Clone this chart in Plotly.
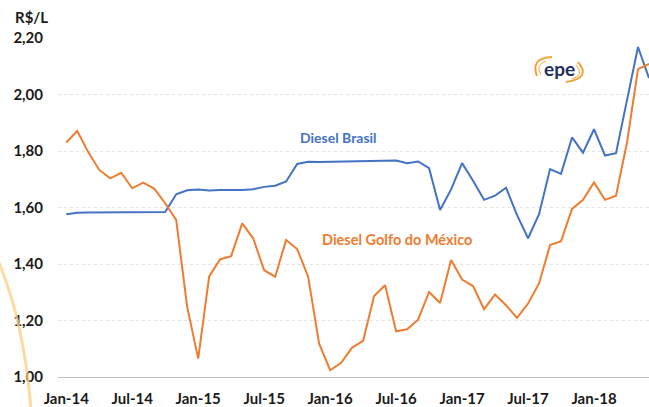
import plotly.graph_objects as go

months = ["Jan", "Feb", "Mar", "Apr", "May", "Jun", "Jul", "Aug", "Sep", "Oct", "Nov", "Dec"]
categories = [f"{m}-{y}" for y in ["14", "15", "16", "17", "18"] for m in months][:54]

diesel_brasil = [
    1.576, 1.581, 1.582, 1.582, 1.583, 1.583, 1.583, 1.582, 1.583, 1.584,
    1.647, 1.661, 1.664, 1.660, 1.662, 1.662, 1.662, 1.665, 1.673, 1.677,
    1.692, 1.754, 1.762, 1.761, 1.762, 1.762, 1.762, 1.763, 1.765, 1.766,
    1.766, 1.757, 1.763, 1.739, 1.591, 1.664, 1.757, 1.695, 1.627, 1.642,
    1.670, 1.573, 1.491, 1.576, 1.736, 1.719, 1.848, 1.794, 1.877, 1.784,
    1.792, 1.980, 2.168, 2.058,
]
diesel_golfo = [
    1.830, 1.871, 1.796, 1.733, 1.703, 1.723, 1.668, 1.688, 1.667, 1.615,
    1.556, 1.248, 1.065, 1.356, 1.417, 1.428, 1.544, 1.491, 1.378, 1.355,
    1.485, 1.453, 1.355, 1.118, 1.024, 1.050, 1.104, 1.128, 1.287, 1.325,
    1.162, 1.169, 1.203, 1.301, 1.262, 1.414, 1.345, 1.322, 1.240, 1.292,
    1.254, 1.209, 1.260, 1.331, 1.467, 1.481, 1.595, 1.627, 1.689, 1.627,
    1.642, 1.830, 2.090, 2.108,
]
tick_labels = ["Jan-14", "Jul-14", "Jan-15", "Jul-15", "Jan-16", "Jul-16", "Jan-17", "Jul-17", "Jan-18"]
y_ticks = [1.0, 1.2, 1.4, 1.6, 1.8, 2.0, 2.2]

BLUE = "#4472C4"
ORANGE = "#ED7D31"
W, H = 649, 407
ML, MR, MT, MB = 58, 0, 38, 30
PW, PH = W - ML - MR, H - MT - MB


def px(x, y):
    return (x - ML) / PW, (H - MB - y) / PH


def path(points_cmds):
    out = []
    for cmd, pts in points_cmds:
        s = cmd + " " + " ".join("%.5f,%.5f" % px(*p) for p in pts)
        out.append(s)
    return " ".join(out)


fig = go.Figure()
fig.add_trace(go.Scatter(x=categories, y=diesel_brasil, mode="lines",
                         line=dict(color=BLUE, width=2), name="Diesel Brasil"))
fig.add_trace(go.Scatter(x=categories, y=diesel_golfo, mode="lines",
                         line=dict(color=ORANGE, width=2), name="Diesel Golfo do México"))

LOGO = "#F2A43A"
shapes = [
    # decorative arc bottom-left
    dict(type="path", xref="paper", yref="paper", layer="above",
         path=path([("M", [(-3, 258)]), ("Q", [(24, 320), (31, 410)])]),
         line=dict(color="rgba(253,205,130,0.75)", width=3)),
    # logo swooshes
    dict(type="path", xref="paper", yref="paper",
         path=path([("M", [(552, 57)]), ("Q", [(530, 58), (537, 76)])]),
         line=dict(color=LOGO, width=2)),
    dict(type="path", xref="paper", yref="paper",
         path=path([("M", [(546, 61)]), ("Q", [(535, 65), (541, 75)])]),
         line=dict(color=LOGO, width=1)),
    dict(type="path", xref="paper", yref="paper",
         path=path([("M", [(578, 62)]), ("Q", [(592, 78), (566, 82)])]),
         line=dict(color=LOGO, width=2)),
    dict(type="path", xref="paper", yref="paper",
         path=path([("M", [(576, 65)]), ("Q", [(585, 75), (572, 79)])]),
         line=dict(color=LOGO, width=1)),
]

annotations = [
    dict(text="<b>R$/L</b>", xref="paper", yref="paper", x=px(31, 17)[0], y=px(31, 17)[1],
         showarrow=False, font=dict(family="Lato", size=15, color="#1a1a1a"),
         xanchor="center", yanchor="middle"),
    dict(text="<b>Diesel Brasil</b>", xref="paper", yref="paper", x=px(338, 137)[0], y=px(338, 137)[1],
         showarrow=False, font=dict(family="Lato", size=14, color=BLUE),
         xanchor="center", yanchor="middle"),
    dict(text="<b>Diesel Golfo do México</b>", xref="paper", yref="paper", x=px(397, 239)[0], y=px(397, 239)[1],
         showarrow=False, font=dict(family="Lato", size=14.5, color=ORANGE),
         xanchor="center", yanchor="middle"),
    dict(text="<b>epe</b>", xref="paper", yref="paper", x=px(559, 69)[0], y=px(559, 69)[1],
         showarrow=False, font=dict(family="Lato", size=19, color="#1F2F5C"),
         xanchor="center", yanchor="middle"),
]

fig.update_layout(
    width=W, height=H,
    margin=dict(l=ML, r=MR, t=MT, b=MB, pad=0),
    paper_bgcolor="white", plot_bgcolor="white",
    showlegend=False,
    separators=",.",
    shapes=shapes,
    annotations=annotations,
    xaxis=dict(
        type="category",
        range=[-0.75, 53.0],
        tickmode="array", tickvals=tick_labels, ticktext=["<b>%s</b>" % t for t in tick_labels],
        showgrid=False, ticks="", zeroline=False,
        showline=True, linecolor="#BFBFBF", linewidth=1,
        tickfont=dict(family="Lato", size=15, color="#1a1a1a"),
        ticklabelstandoff=8,
    ),
    yaxis=dict(
        range=[1.0, 2.2],
        tickmode="array", tickvals=y_ticks,
        ticktext=["<b>%s</b>" % ("%.2f" % v).replace(".", ",") for v in y_ticks],
        showgrid=True, gridcolor="#E3E3E3", gridwidth=1, griddash="dot",
        zeroline=False, showline=False, ticks="",
        tickfont=dict(family="Lato", size=15, color="#1a1a1a"),
        ticklabelstandoff=14,
    ),
)

fig.write_html("out.html", config={"displayModeBar": False},
               post_script="document.body.style.margin='0';document.body.style.overflow='hidden';")
